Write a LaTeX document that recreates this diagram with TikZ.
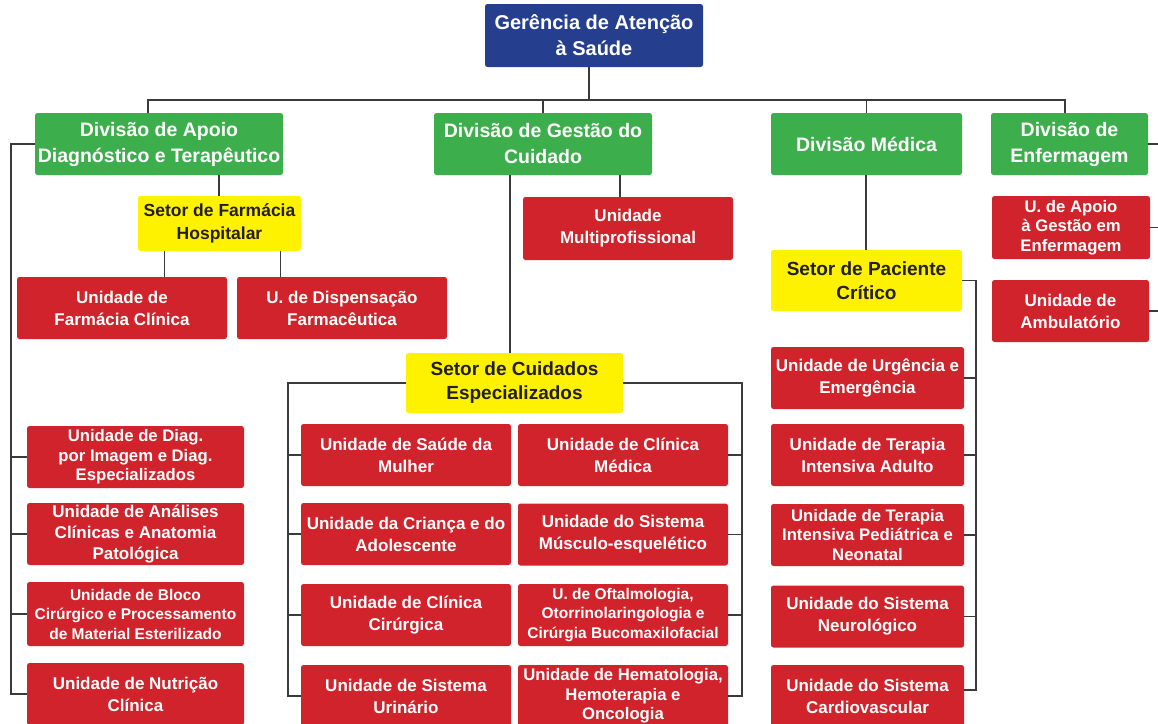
\documentclass[tikz,border=0pt]{standalone}
\usepackage{fontspec}
\setmainfont{Liberation Sans}
\usetikzlibrary{calc}
\definecolor{cblue}{HTML}{253F8E}
\definecolor{cgreen}{HTML}{3CAE4B}
\definecolor{cred}{HTML}{D0232B}
\definecolor{cyellow}{HTML}{FFF200}
\definecolor{cline}{HTML}{3A3A3A}
\definecolor{ctext}{HTML}{231F20}
\begin{document}
\begin{tikzpicture}[x=1pt,y=-1pt,
  box/.style={rectangle, rounded corners=2.5pt, inner sep=0pt, align=center},
  topbox/.style={box, fill=cblue, text=white, font=\bfseries\fontsize{20}{26}\selectfont},
  gbox/.style={box, fill=cgreen, text=white, minimum height=62, font=\bfseries\fontsize{19.5}{26}\selectfont},
  ybox/.style={box, fill=cyellow, text=ctext, font=\bfseries\fontsize{19}{24}\selectfont},
  rbox/.style={box, fill=cred, text=white, minimum height=62, font=\bfseries\fontsize{17}{22}\selectfont},
  rboxs/.style={rbox, font=\bfseries\fontsize{16.7}{19.5}\selectfont},
  rboxt/.style={rbox, font=\bfseries\fontsize{15.5}{19.5}\selectfont},
  conn/.style={draw=cline, line width=1.4pt}
]
\useasboundingbox (0,0) rectangle (1158,723);
\clip (0,0) rectangle (1158,723);

% top
\node[topbox, minimum width=218, minimum height=63] (top) at (594,35.5) {Gerência de Atenção\\à Saúde};

% divisions
\node[gbox, minimum width=248] (dA) at (159,144) {Divisão de Apoio\\Diagnóstico e Terapêutico};
\node[gbox, minimum width=218] (dG) at (543,144) {Divisão de Gestão do\\Cuidado};
\node[gbox, minimum width=191] (dM) at (866.5,144) {Divisão Médica};
\node[gbox, minimum width=157] (dE) at (1069.5,144) {Divisão de\\Enfermagem};

% apoio branch
\node[ybox, minimum width=163, minimum height=55, font=\bfseries\fontsize{17.5}{23}\selectfont] (farm) at (219.5,223.5) {Setor de Farmácia\\Hospitalar};
\node[rbox, minimum width=210] (fc) at (122,308) {Unidade de\\Farmácia Clínica};
\node[rbox, minimum width=210] (disp) at (342,308) {U. de Dispensação\\Farmacêutica};
\node[rboxs, minimum width=217] (diag) at (135.5,457) {Unidade de Diag.\\por Imagem e Diag.\\Especializados};
\node[rbox, minimum width=217, font=\bfseries\fontsize{17}{21}\selectfont] (anal) at (135.5,534) {Unidade de Análises\\Clínicas e Anatomia\\Patológica};
\node[rboxt, minimum width=217, minimum height=64] (bloco) at (135.5,614) {Unidade de Bloco\\Cirúrgico e Processamento\\de Material Esterilizado};
\node[rbox, minimum width=217] (nutr) at (135.5,694) {Unidade de Nutrição\\Clínica};

% gestao branch
\node[rbox, minimum width=210, minimum height=63] (multi) at (628,228.5) {Unidade\\Multiprofissional};
\node[ybox, minimum width=217, minimum height=60] (cuid) at (514.5,383) {Setor de Cuidados\\Especializados};
\node[rbox, minimum width=210] (mulher) at (406,455) {Unidade de Saúde da\\Mulher};
\node[rbox, minimum width=210] (crianca) at (406,534) {Unidade da Criança e do\\Adolescente};
\node[rbox, minimum width=210] (cirurg) at (406,615) {Unidade de Clínica\\Cirúrgica};
\node[rbox, minimum width=210] (urin) at (406,696) {Unidade de Sistema\\Urinário};
\node[rbox, minimum width=210] (medica) at (623,455) {Unidade de Clínica\\Médica};
\node[rbox, minimum width=210] (musc) at (623,534.5) {Unidade do Sistema\\Músculo-esquelético};
\node[rboxt, minimum width=210] (oftal) at (623,615) {U. de Oftalmologia,\\Otorrinolaringologia e\\Cirúrgia Bucomaxilofacial};
\node[rboxs, minimum width=210] (hemat) at (623,696) {Unidade de Hematologia,\\Hemoterapia e\\Oncologia};

% medica branch
\node[ybox, minimum width=191, minimum height=61] (crit) at (866.5,280.5) {Setor de Paciente\\Crítico};
\node[rbox, minimum width=193] (urg) at (867.5,378) {Unidade de Urgência e\\Emergência};
\node[rbox, minimum width=193] (uti) at (867.5,455) {Unidade de Terapia\\Intensiva Adulto};
\node[rboxs, minimum width=193] (ped) at (867.5,535) {Unidade de Terapia\\Intensiva Pediátrica e\\Neonatal};
\node[rbox, minimum width=193] (neuro) at (867.5,616.5) {Unidade do Sistema\\Neurológico};
\node[rbox, minimum width=193] (cardio) at (867.5,696) {Unidade do Sistema\\Cardiovascular};

% enfermagem branch
\node[rboxs, minimum width=158, minimum height=63] (apoioE) at (1071,227.5) {U. de Apoio\\à Gestão em\\Enfermagem};
\node[rbox, minimum width=157] (amb) at (1070.5,311) {Unidade de\\Ambulatório};

% helper coordinates
\coordinate (bus) at (0,100);
\coordinate (lbus) at (11,142);
\coordinate (cl) at (288,0);
\coordinate (cr) at (742,0);
\coordinate (mr) at (976,0);
\coordinate (edge) at (1162,0);

% top bus
\draw[conn] ([xshift=-5]top.south) -- ([xshift=-5]top.south |- bus);
\draw[conn] ([xshift=-11]dA.north) -- ([xshift=-11]dA.north |- bus) -- ([xshift=-4.5]dE.north |- bus) -- ([xshift=-4.5]dE.north);
\draw[conn] (dG.north) -- (dG.north |- bus);
\draw[conn] (dM.north) -- (dM.north |- bus);

% apoio
\draw[conn] (dA.west) -- (dA.west -| lbus) -- (nutr.west -| lbus) -- (nutr.west);
\draw[conn] (diag.west) -- (diag.west -| lbus);
\draw[conn] (anal.west) -- (anal.west -| lbus);
\draw[conn] (bloco.west) -- (bloco.west -| lbus);
\draw[conn] ([xshift=-0.5]farm.north) -- ([xshift=-0.5]farm.north |- dA.south);
\draw[conn] ([xshift=-55]farm.south) -- ([xshift=-55]farm.south |- fc.north);
\draw[conn] ([xshift=61]farm.south) -- ([xshift=61]farm.south |- disp.north);

% gestao
\draw[conn] ([xshift=-8]multi.north) -- ([xshift=-8]multi.north |- dG.south);
\draw[conn] ([xshift=-4.5]cuid.north) -- ([xshift=-4.5]cuid.north |- dG.south);
\draw[conn] (cuid.west) -- (cuid.west -| cl) -- (urin.west -| cl) -- (urin.west);
\draw[conn] (mulher.west) -- (mulher.west -| cl);
\draw[conn] (crianca.west) -- (crianca.west -| cl);
\draw[conn] (cirurg.west) -- (cirurg.west -| cl);
\draw[conn] (cuid.east) -- (cuid.east -| cr) -- (hemat.east -| cr) -- (hemat.east);
\draw[conn] (medica.east) -- (medica.east -| cr);
\draw[conn] (musc.east) -- (musc.east -| cr);
\draw[conn] (oftal.east) -- (oftal.east -| cr);

% medica
\draw[conn] ([xshift=-0.5]dM.south) -- ([xshift=-0.5]crit.north);
\draw[conn] (crit.east) -- (crit.east -| mr) -- ([yshift=6]cardio.east -| mr) -- ([yshift=6]cardio.east);
\draw[conn] (urg.east) -- (urg.east -| mr);
\draw[conn] (uti.east) -- (uti.east -| mr);
\draw[conn] (ped.east) -- (ped.east -| mr);
\draw[conn] (neuro.east) -- (neuro.east -| mr);

% enfermagem (to the right edge)
\draw[conn] (dE.east) -- (dE.east -| edge);
\draw[conn] (apoioE.east) -- (apoioE.east -| edge);
\draw[conn] (amb.east) -- (amb.east -| edge);
\end{tikzpicture}
\end{document}
